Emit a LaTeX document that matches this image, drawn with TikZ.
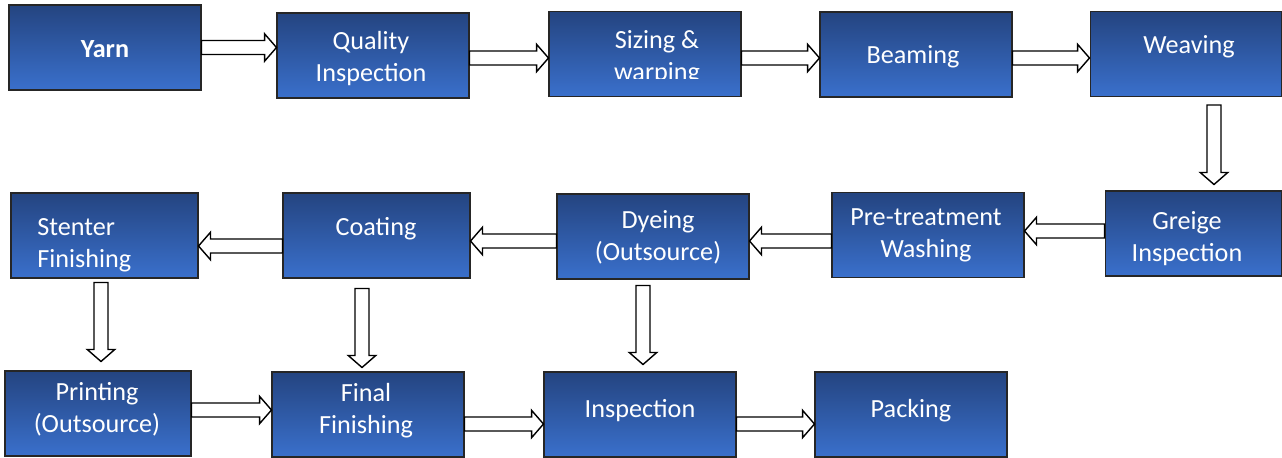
\documentclass[tikz,border=0pt]{standalone}
\usepackage{fontspec}
\setmainfont{Carlito}
\usetikzlibrary{calc}

\definecolor{boxtop}{RGB}{36,68,128}
\definecolor{boxbot}{RGB}{58,112,204}

\tikzset{
  box/.style={rectangle, draw=black!85, line width=0.6pt, top color=boxtop, bottom color=boxbot,
    minimum width=3.84cm, minimum height=1.7cm, inner sep=0pt},
  lbl/.style={text=white, font=\fontsize{14.9}{18.2}\selectfont, align=center, inner sep=0pt,
    yshift=-1.1pt},
  blockarrow/.style={draw=black, line width=0.8pt, fill=white, line join=miter,
    to path={let \p1=(\tikztostart), \p2=(\tikztotarget),
      \n1={veclen(\x2-\x1,\y2-\y1)}, \n2={(\x2-\x1)/\n1}, \n3={(\y2-\y1)/\n1} in
      ({\x1-(\n3)*4pt},{\y1+(\n2)*4pt})
      -- ({\x2-(\n2)*6.8pt-(\n3)*4pt},{\y2-(\n3)*6.8pt+(\n2)*4pt})
      -- ({\x2-(\n2)*6.8pt-(\n3)*7.8pt},{\y2-(\n3)*6.8pt+(\n2)*7.8pt})
      -- (\p2)
      -- ({\x2-(\n2)*6.8pt+(\n3)*7.8pt},{\y2-(\n3)*6.8pt-(\n2)*7.8pt})
      -- ({\x2-(\n2)*6.8pt+(\n3)*4pt},{\y2-(\n3)*6.8pt-(\n2)*4pt})
      -- ({\x1+(\n3)*4pt},{\y1-(\n2)*4pt}) -- cycle}}
}

\begin{document}
\begin{tikzpicture}[x=0.02cm, y=-0.02cm]
  \useasboundingbox (0,0) rectangle (1282,457);

  % Kaesten der Prozessschritte
  \foreach \n/\x/\y/\w in {yarn/105/47.5/3.84, qi/373/55.5/3.84, sizing/645/54/3.84,
      beaming/916/54.5/3.84, weaving/1186/54/3.84,
      stenter/104.5/235.5/3.74, coating/376.5/235.5/3.74, dyeing/653/236.5/3.84,
      pre/928/235/3.84, greige/1193.5/233.5/3.54,
      printing/98/413.5/3.72, final/368/414.5/3.84, insp/640/414.5/3.84, packing/911/414.5/3.84} {
    \node[box, minimum width=\w cm] (\n) at (\x,\y) {};
  }

  % Beschriftungen
  \node[lbl] (yarnT) at (105,47) {\textbf{Yarn}};
  \node[lbl] (qiT) at (371,57) {Quality\\Inspection};
  \begin{scope}
    \clip (549,11) rectangle (741,78);
    \node[lbl] (sizingT) at (657,56) {Sizing \&\\warping};
  \end{scope}
  \node[lbl] (beamingT) at (913,55) {Beaming};
  \node[lbl] (weavingT) at (1189,45) {Weaving};
  \node[lbl, anchor=west, align=left] (stenterT) at (37,243) {Stenter\\Finishing};
  \node[lbl] (coatingT) at (376,227) {Coating};
  \node[lbl] (dyeingT) at (658,235) {Dyeing\\(Outsource)};
  \node[lbl] (preT) at (926,233) {Pre-treatment\\Washing};
  \node[lbl] (greigeT) at (1187,237) {Greige\\Inspection};
  \node[lbl] (printingT) at (97,407) {Printing\\(Outsource)};
  \node[lbl] (finalT) at (366,409) {Final\\Finishing};
  \node[lbl] (inspT) at (640,409) {Inspection};
  \node[lbl] (packingT) at (911,409) {Packing};

  % Pfeile erste Reihe
  \draw[blockarrow] (yarn.east) to (yarn.east -| qi.west);
  \draw[blockarrow] ($(qi.east)+(0,2.5)$) to ($(sizing.west)+(0,4)$);
  \draw[blockarrow] ($(sizing.east)+(0,4)$) to ($(beaming.west)+(0,3.5)$);
  \draw[blockarrow] ($(beaming.east)+(0,3.5)$) to ($(weaving.west)+(0,4)$);
  \draw[blockarrow] ($(weaving.south)+(28,8)$) to ($(greige.north)+(20.5,-6)$);

  % Pfeile zweite Reihe
  \draw[blockarrow] ($(greige.west)+(0,-2.5)$) to ($(pre.east)+(0,-4)$);
  \draw[blockarrow] ($(pre.west)+(0,6)$) to ($(dyeing.east)+(0,4.5)$);
  \draw[blockarrow] ($(dyeing.west)+(0,4.5)$) to ($(coating.east)+(0,5.5)$);
  \draw[blockarrow] ($(coating.west)+(0,10.5)$) to ($(stenter.east)+(0,10.5)$);
  \draw[blockarrow] ($(stenter.south)+(-3.5,4)$) to ($(printing.north)+(3,-9)$);
  \draw[blockarrow] ($(coating.south)+(-14.5,10)$) to ($(final.north)+(-6,-4)$);
  \draw[blockarrow] ($(dyeing.south)+(-10,6)$) to ($(insp.north)+(3,-7)$);

  % Pfeile dritte Reihe
  \draw[blockarrow] ($(printing.east)+(0,-3.5)$) to ($(final.west)+(0,-4.5)$);
  \draw[blockarrow] ($(final.east)+(0,9.5)$) to ($(insp.west)+(0,9.5)$);
  \draw[blockarrow] ($(insp.east)+(0,9.5)$) to ($(packing.west)+(0,9.5)$);
\end{tikzpicture}
\end{document}
